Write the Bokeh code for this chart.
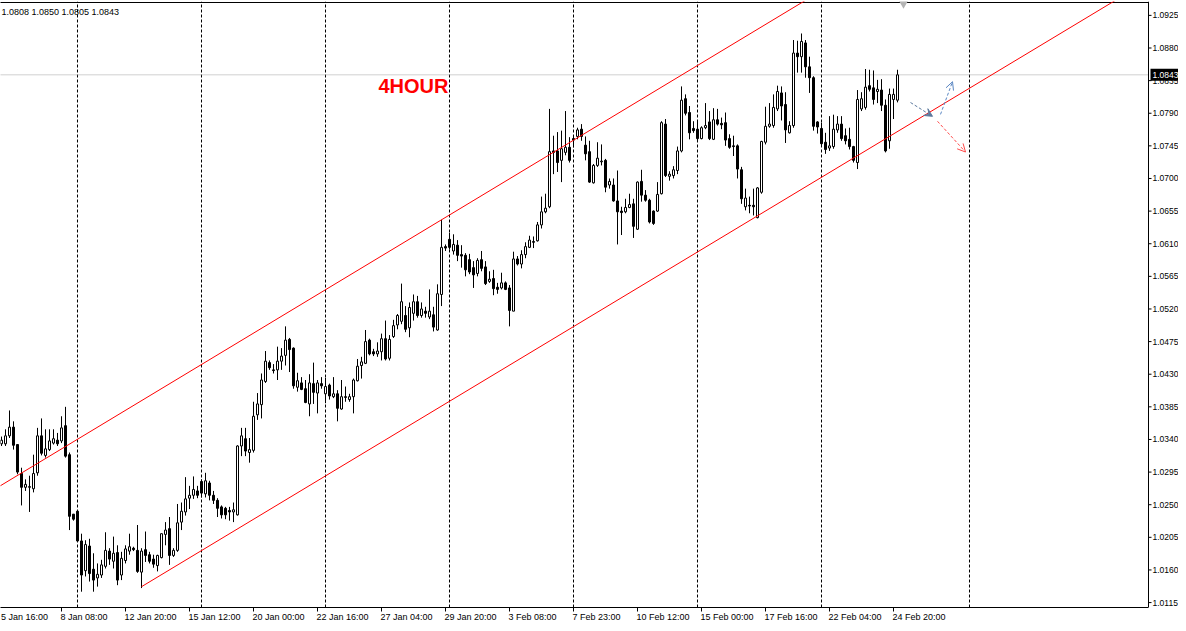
from bokeh.plotting import figure
from bokeh.models import (FixedTicker, Span, Arrow, OpenHead, VeeHead, Range1d,
                          ColumnDataSource, Label)
from bokeh.core.properties import value
from bokeh.embed import file_html
from bokeh.resources import INLINE

# ---------------- data (4H candles) ----------------
opens = [1.0334,1.0334,1.0345,1.0357,1.0333,1.0293,1.0274,1.0274,1.0272,1.0294,
         1.0345,1.0318,1.0326,1.0335,1.0339,1.0338,1.0359,1.0319,1.0237,1.0241,
         1.0200,1.0159,1.0193,1.0161,1.0149,1.0153,1.0165,1.0186,1.0172,1.0184,
         1.0153,1.0173,1.0186,1.0190,1.0187,1.0157,1.0188,1.0181,1.0175,1.0166,
         1.0177,1.0209,1.0217,1.0180,1.0187,1.0226,1.0240,1.0259,1.0263,1.0269,
         1.0282,1.0265,1.0280,1.0263,1.0256,1.0247,1.0245,1.0242,1.0240,1.0236,
         1.0331,1.0341,1.0322,1.0325,1.0374,1.0388,1.0420,1.0446,1.0436,1.0436,
         1.0448,1.0456,1.0478,1.0466,1.0412,1.0418,1.0410,1.0389,1.0417,1.0404,
         1.0417,1.0403,1.0415,1.0399,1.0403,1.0382,1.0399,1.0395,1.0399,1.0421,
         1.0442,1.0445,1.0477,1.0461,1.0458,1.0461,1.0479,1.0452,1.0482,1.0498,
         1.0503,1.0511,1.0494,1.0514,1.0530,1.0511,1.0517,1.0509,1.0512,1.0491,
         1.0540,1.0606,1.0616,1.0600,1.0608,1.0595,1.0594,1.0588,1.0577,1.0569,
         1.0588,1.0578,1.0558,1.0562,1.0550,1.0549,1.0556,1.0549,1.0517,1.0589,
         1.0582,1.0595,1.0605,1.0613,1.0614,1.0636,1.0654,1.0661,1.0738,1.0738,
         1.0725,1.0736,1.0743,1.0755,1.0758,1.0768,1.0746,1.0737,1.0694,1.0718,
         1.0723,1.0725,1.0691,1.0691,1.0669,1.0655,1.0654,1.0660,1.0665,1.0630,
         1.0696,1.0677,1.0670,1.0655,1.0655,1.0679,1.0775,1.0703,1.0704,1.0711,
         1.0738,1.0810,1.0791,1.0769,1.0768,1.0755,1.0770,1.0778,1.0754,1.0781,
         1.0776,1.0777,1.0755,1.0745,1.0745,1.0712,1.0661,1.0663,1.0663,1.0646,
         1.0681,1.0750,1.0772,1.0773,1.0796,1.0818,1.0802,1.0763,1.0773,1.0873,
         1.0868,1.0887,1.0854,1.0839,1.0778,1.0769,1.0750,1.0742,1.0744,1.0767,
         1.0775,1.0759,1.0754,1.0744,1.0722,1.0796,1.0798,1.0828,1.0825,1.0820,
         1.0822,1.0801,1.0752,1.0809,1.0808]
highs = [1.0344,1.0354,1.0380,1.0365,1.0333,1.0301,1.0285,1.0290,1.0319,1.0356,
         1.0369,1.0354,1.0354,1.0354,1.0349,1.0372,1.0385,1.0322,1.0237,1.0241,
         1.0210,1.0201,1.0203,1.0183,1.0169,1.0174,1.0212,1.0190,1.0206,1.0194,
         1.0185,1.0194,1.0210,1.0192,1.0222,1.0190,1.0213,1.0185,1.0181,1.0181,
         1.0210,1.0226,1.0233,1.0190,1.0251,1.0253,1.0288,1.0276,1.0289,1.0276,
         1.0285,1.0294,1.0283,1.0269,1.0259,1.0249,1.0247,1.0247,1.0253,1.0332,
         1.0356,1.0356,1.0342,1.0392,1.0404,1.0431,1.0462,1.0449,1.0444,1.0468,
         1.0466,1.0496,1.0480,1.0467,1.0432,1.0426,1.0422,1.0430,1.0446,1.0422,
         1.0426,1.0425,1.0417,1.0426,1.0408,1.0422,1.0413,1.0403,1.0424,1.0451,
         1.0454,1.0491,1.0479,1.0465,1.0474,1.0486,1.0504,1.0484,1.0505,1.0513,
         1.0555,1.0524,1.0529,1.0540,1.0538,1.0529,1.0523,1.0547,1.0523,1.0554,
         1.0643,1.0609,1.0625,1.0623,1.0615,1.0608,1.0597,1.0596,1.0586,1.0590,
         1.0600,1.0586,1.0572,1.0574,1.0556,1.0570,1.0558,1.0553,1.0599,1.0593,
         1.0601,1.0612,1.0621,1.0620,1.0640,1.0675,1.0679,1.0796,1.0759,1.0764,
         1.0766,1.0793,1.0757,1.0758,1.0770,1.0775,1.0758,1.0752,1.0720,1.0750,
         1.0747,1.0727,1.0700,1.0700,1.0711,1.0661,1.0672,1.0679,1.0672,1.0696,
         1.0712,1.0684,1.0672,1.0656,1.0695,1.0779,1.0782,1.0710,1.0717,1.0744,
         1.0827,1.0816,1.0800,1.0779,1.0778,1.0772,1.0804,1.0793,1.0797,1.0796,
         1.0784,1.0791,1.0761,1.0759,1.0747,1.0716,1.0686,1.0675,1.0686,1.0688,
         1.0752,1.0799,1.0804,1.0816,1.0828,1.0827,1.0819,1.0779,1.0891,1.0890,
         1.0900,1.0891,1.0868,1.0841,1.0779,1.0777,1.0763,1.0786,1.0788,1.0786,
         1.0786,1.0769,1.0770,1.0745,1.0822,1.0819,1.0851,1.0850,1.0849,1.0836,
         1.0837,1.0809,1.0824,1.0824,1.0850]
lows = [1.0331,1.0331,1.0342,1.0326,1.0292,1.0249,1.0269,1.0240,1.0267,1.0290,
        1.0318,1.0315,1.0324,1.0333,1.0331,1.0335,1.0315,1.0215,1.0228,1.0199,
        1.0130,1.0151,1.0144,1.0130,1.0137,1.0149,1.0162,1.0167,1.0162,1.0139,
        1.0146,1.0169,1.0181,1.0186,1.0156,1.0135,1.0171,1.0169,1.0163,1.0158,
        1.0176,1.0194,1.0167,1.0178,1.0185,1.0215,1.0235,1.0244,1.0258,1.0259,
        1.0260,1.0260,1.0256,1.0251,1.0233,1.0231,1.0230,1.0228,1.0226,1.0235,
        1.0317,1.0317,1.0308,1.0322,1.0367,1.0369,1.0418,1.0436,1.0431,1.0422,
        1.0436,1.0442,1.0433,1.0410,1.0406,1.0408,1.0390,1.0372,1.0389,1.0376,
        1.0410,1.0390,1.0395,1.0397,1.0365,1.0381,1.0392,1.0392,1.0376,1.0420,
        1.0424,1.0444,1.0456,1.0455,1.0454,1.0449,1.0449,1.0449,1.0480,1.0492,
        1.0499,1.0488,1.0481,1.0504,1.0508,1.0508,1.0508,1.0506,1.0489,1.0490,
        1.0524,1.0600,1.0602,1.0595,1.0586,1.0577,1.0565,1.0568,1.0549,1.0565,
        1.0572,1.0553,1.0556,1.0539,1.0541,1.0547,1.0546,1.0496,1.0517,1.0580,
        1.0576,1.0590,1.0604,1.0604,1.0613,1.0631,1.0652,1.0659,1.0706,1.0709,
        1.0695,1.0732,1.0722,1.0743,1.0754,1.0752,1.0725,1.0694,1.0693,1.0716,
        1.0718,1.0681,1.0686,1.0668,1.0609,1.0622,1.0652,1.0659,1.0618,1.0629,
        1.0668,1.0668,1.0638,1.0636,1.0654,1.0678,1.0702,1.0697,1.0700,1.0706,
        1.0736,1.0787,1.0754,1.0763,1.0752,1.0754,1.0768,1.0753,1.0753,1.0773,
        1.0768,1.0745,1.0741,1.0731,1.0700,1.0665,1.0656,1.0652,1.0649,1.0645,
        1.0679,1.0747,1.0770,1.0770,1.0793,1.0780,1.0749,1.0762,1.0770,1.0846,
        1.0846,1.0839,1.0818,1.0766,1.0762,1.0745,1.0734,1.0738,1.0741,1.0763,
        1.0752,1.0747,1.0740,1.0722,1.0713,1.0793,1.0795,1.0820,1.0802,1.0804,
        1.0793,1.0736,1.0741,1.0782,1.0805]
closes = [1.0339,1.0345,1.0357,1.0332,1.0295,1.0274,1.0278,1.0275,1.0293,1.0345,
          1.0321,1.0327,1.0338,1.0341,1.0334,1.0356,1.0317,1.0234,1.0230,1.0200,
          1.0153,1.0195,1.0155,1.0146,1.0154,1.0167,1.0187,1.0175,1.0183,1.0146,
          1.0176,1.0189,1.0192,1.0188,1.0158,1.0186,1.0180,1.0172,1.0168,1.0180,
          1.0210,1.0215,1.0180,1.0187,1.0225,1.0241,1.0258,1.0263,1.0271,1.0263,
          1.0266,1.0283,1.0263,1.0256,1.0245,1.0236,1.0236,1.0240,1.0243,1.0331,
          1.0345,1.0324,1.0326,1.0372,1.0389,1.0422,1.0448,1.0439,1.0435,1.0448,
          1.0455,1.0477,1.0464,1.0414,1.0421,1.0409,1.0391,1.0418,1.0405,1.0418,
          1.0414,1.0413,1.0400,1.0403,1.0383,1.0399,1.0398,1.0399,1.0422,1.0441,
          1.0447,1.0475,1.0458,1.0458,1.0462,1.0479,1.0451,1.0478,1.0497,1.0511,
          1.0530,1.0492,1.0522,1.0530,1.0511,1.0520,1.0514,1.0517,1.0495,1.0541,
          1.0605,1.0604,1.0605,1.0609,1.0594,1.0593,1.0574,1.0571,1.0567,1.0587,
          1.0576,1.0555,1.0561,1.0548,1.0547,1.0556,1.0547,1.0518,1.0589,1.0582,
          1.0595,1.0606,1.0615,1.0612,1.0636,1.0654,1.0659,1.0737,1.0736,1.0722,
          1.0741,1.0743,1.0725,1.0753,1.0767,1.0758,1.0734,1.0695,1.0718,1.0728,
          1.0724,1.0688,1.0696,1.0669,1.0654,1.0653,1.0660,1.0664,1.0634,1.0695,
          1.0677,1.0670,1.0640,1.0638,1.0678,1.0777,1.0704,1.0706,1.0712,1.0738,
          1.0808,1.0790,1.0763,1.0766,1.0755,1.0770,1.0773,1.0755,1.0781,1.0775,
          1.0774,1.0753,1.0743,1.0744,1.0713,1.0672,1.0673,1.0662,1.0661,1.0687,
          1.0751,1.0772,1.0775,1.0798,1.0820,1.0800,1.0767,1.0773,1.0873,1.0868,
          1.0889,1.0854,1.0839,1.0772,1.0771,1.0748,1.0740,1.0745,1.0768,1.0775,
          1.0755,1.0752,1.0744,1.0725,1.0809,1.0810,1.0826,1.0823,1.0809,1.0823,
          1.0801,1.0738,1.0816,1.0816,1.0843]

time_tick_bars = [-1, 15, 31, 47, 63, 79, 95, 111, 127, 143, 159, 175, 191, 207, 223]
time_labels = ["5 Jan 16:00", "8 Jan 08:00", "12 Jan 20:00", "15 Jan 12:00",
               "20 Jan 00:00", "22 Jan 16:00", "27 Jan 04:00", "29 Jan 20:00",
               "3 Feb 08:00", "7 Feb 23:00", "10 Feb 12:00", "15 Feb 00:00",
               "17 Feb 16:00", "22 Feb 04:00", "24 Feb 20:00"]
separator_bars = [19, 50, 81, 112, 143, 174, 205, 242]
price_ticks = [1.0115, 1.0160, 1.0205, 1.0250, 1.0295, 1.0340, 1.0385, 1.0430,
               1.0475, 1.0520, 1.0565, 1.0610, 1.0655, 1.0700, 1.0745, 1.0790,
               1.0835, 1.0880, 1.0925]
price_labels = [f"{v:.4f}" for v in price_ticks]
last_price = 1.0843
header_text = "1.0808 1.0850 1.0805 1.0843"

# objects drawn on the chart: trend channel and arrows (bar index, price)
channel_upper_x = [-0.5, 205.5]
channel_upper_y = [1.02754, 1.09607]
channel_lower_x = [35.0, 282.0]
channel_lower_y = [1.01369, 1.09574]
arrow_x_start = [227.25, 234.75, 234.0]
arrow_y_start = [1.08048, 1.07884, 1.07789]
arrow_x_end = [232.75, 237.75, 241.0]
arrow_y_end = [1.07857, 1.08335, 1.07365]
arrow_colors = ["#5d7a9e", "#5a86c2", "#ff4a4a"]
arrow_heads = ["vee", "open", "open"]

# ---------------- geometry ----------------
FONT = "Liberation Sans"
W, H = 1178, 623
FRAME_H = 606
TOP_BORDER = 1
Y_TOP, Y_BOT = 1.094413, 1.010820
X0 = -0.25                       # bar i is drawn at pixel 1 + 4 i
X1 = X0 + W / 4
PX_Y = (Y_TOP - Y_BOT) / FRAME_H  # price per pixel


def bar_at(px):
    return X0 + px / 4


AXIS_X = bar_at(1148)            # right price scale line

n = len(closes)
src = ColumnDataSource(dict(
    x=list(range(n)), h=highs, l=lows,
    top=[max(a, b) for a, b in zip(opens, closes)],
    bot=[min(a, b) for a, b in zip(opens, closes)],
    fill=["white" if c >= o else "black" for o, c in zip(opens, closes)],
))

p = figure(frame_width=W, frame_height=FRAME_H,
           x_range=Range1d(X0, X1), y_range=Range1d(Y_BOT, Y_TOP),
           output_backend="svg", toolbar_location=None, y_axis_location=None,
           min_border_left=0, min_border_right=0, min_border_top=TOP_BORDER,
           min_border_bottom=H - FRAME_H - TOP_BORDER, outline_line_color=None,
           background_fill_color="white", border_fill_color="white")

# vertical dashed separators
p.ygrid.visible = False
p.xgrid.ticker = FixedTicker(ticks=separator_bars)
p.xgrid.grid_line_color = "black"
p.xgrid.grid_line_dash = "3 2"
p.xgrid.grid_line_width = 1

# time axis: each label starts at its tick mark
em = {" ": .278, ":": .278, "J": .5, "F": .611}
fs = 9
centers = []
for b, t in zip(time_tick_bars, time_labels):
    w = sum(em.get(ch, .556) for ch in t) * fs
    left_px = max(1 + 4 * b - 1, 0.5)
    centers.append(round(bar_at(left_px + w / 2), 3))
xa = p.xaxis[0]
xa.bounds = (X0, AXIS_X)
xa.ticker = FixedTicker(ticks=centers, minor_ticks=time_tick_bars)
xa.major_label_overrides = {c: t for c, t in zip(centers, time_labels)}
xa.major_tick_line_color = None
xa.major_tick_out = 4
xa.major_tick_in = 0
xa.minor_tick_line_color = "black"
xa.minor_tick_out = 4
xa.minor_tick_in = 0
xa.major_label_standoff = 0
xa.axis_line_color = "black"
xa.major_label_text_font = FONT
xa.major_label_text_font_size = f"{fs}px"
xa.major_label_text_color = "black"

# price scale on the right (line, ticks, labels)
p.add_layout(Span(location=AXIS_X, dimension="height", line_color="black", line_width=1))
p.segment(x0=[-0.5], y0=[Y_TOP - PX_Y], x1=[AXIS_X], y1=[Y_TOP - PX_Y],
          line_color="black", line_width=1)
p.segment(x0=[AXIS_X] * len(price_ticks), y0=price_ticks,
          x1=[bar_at(1151)] * len(price_ticks), y1=price_ticks,
          line_color="black", line_width=1)
p.text(x=[bar_at(1152)] * len(price_ticks), y=price_ticks, text=price_labels,
       text_font=value(FONT), text_font_size="8.5px", text_color="black",
       text_baseline="middle", text_align="left")

# current price line and its box on the scale
p.segment(x0=[X0], y0=[last_price], x1=[AXIS_X], y1=[last_price],
          line_color="#a0a0a0", line_dash="1 1", line_width=1)
p.quad(left=[bar_at(1150)], right=[X1 + 1], bottom=[last_price - 6 * PX_Y],
       top=[last_price + 6 * PX_Y], fill_color="black", line_color=None)
p.text(x=[bar_at(1152)], y=[last_price], text=[f"{last_price:.4f}"],
       text_font=value(FONT), text_font_size="8.5px", text_color="white",
       text_baseline="middle", text_align="left")

# candles
p.segment(x0="x", y0="l", x1="x", y1="h", source=src, line_color="black", line_width=1)
p.vbar(x="x", width=0.5, top="top", bottom="bot", source=src,
       fill_color="fill", line_color="black", line_width=1)

# channel
p.line(channel_upper_x, channel_upper_y, line_color="#ff0000", line_width=1)
p.line(channel_lower_x, channel_lower_y, line_color="#ff0000", line_width=1)

# arrows
for xs, ys, xe, ye, col, head in zip(arrow_x_start, arrow_y_start, arrow_x_end,
                                     arrow_y_end, arrow_colors, arrow_heads):
    if head == "vee":
        hd = VeeHead(size=8, line_color=col, fill_color=col, line_width=1)
    else:
        hd = OpenHead(size=8, line_color=col, line_width=1)
    p.add_layout(Arrow(end=hd, x_start=xs, y_start=ys, x_end=xe, y_end=ye,
                       line_color=col, line_width=1, line_dash="3 2"))

# chart-shift marker at the top
p.scatter(x=[bar_at(903)], y=[Y_TOP - 2 * PX_Y], marker="inverted_triangle",
          size=9, fill_color="#b4b4b4", line_color=None)

# texts
p.add_layout(Label(x=bar_at(378), y=1.0828, text="4HOUR", text_color="#ff0000",
                   text_font=FONT, text_font_size="20px", text_font_style="bold",
                   text_baseline="middle", text_align="left"))
p.add_layout(Label(x=bar_at(1), y=1.09298, text=header_text, text_color="black",
                   text_font=FONT, text_font_size=f"{fs}px",
                   text_baseline="middle", text_align="left"))

open("out.html", "w").write(file_html(p, INLINE))
